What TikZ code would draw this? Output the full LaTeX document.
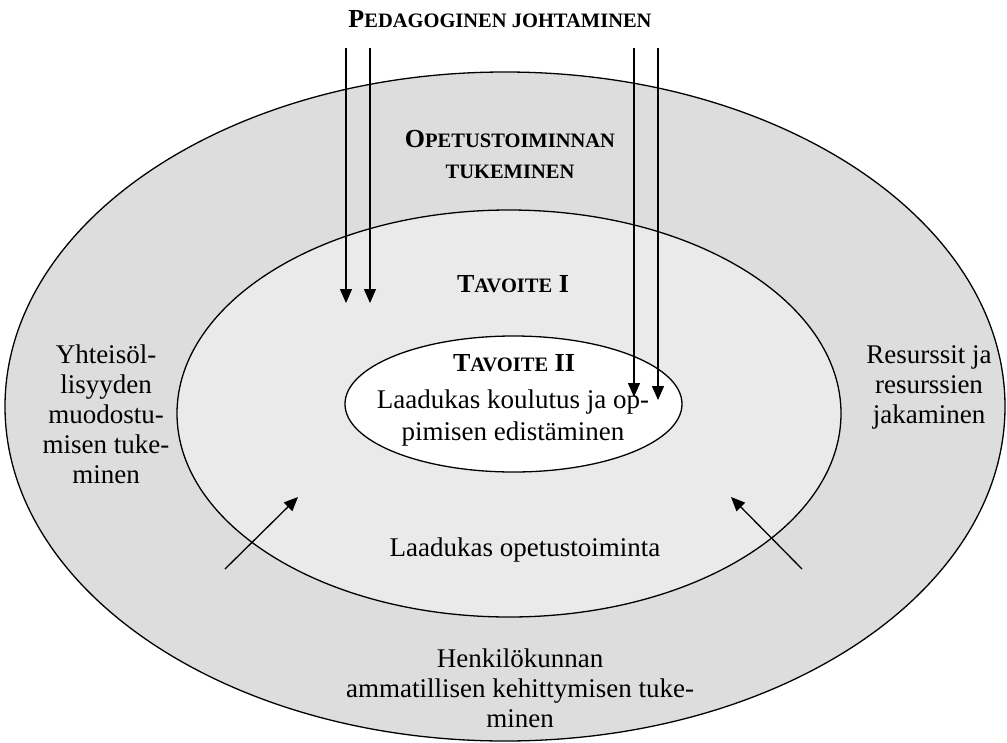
\documentclass[tikz,border=0pt]{standalone}
\usepackage{fontspec}
\setmainfont{Liberation Serif}
\usetikzlibrary{arrows.meta,shapes.geometric}
\definecolor{ringouter}{gray}{0.867}
\definecolor{ringmid}{gray}{0.918}
\newcommand\fakesc[2]{{\bfseries\fontsize{26}{30}\selectfont #1\fontsize{20.5}{30}\selectfont #2}}
\begin{document}
\begin{tikzpicture}[x=1pt,y=-1pt,
  txt/.style={font=\fontsize{27}{30}\selectfont, inner sep=0pt, anchor=base, align=center},
  hd/.style={inner sep=0pt, anchor=base, align=center},
  ring/.style={ellipse, draw=black, line width=1.3pt, inner sep=0pt},
  arr/.style={-{Triangle[length=14pt,width=12pt]}, line width=1.3pt}]
\useasboundingbox (0,0) rectangle (1007,742);
% ellipses
\node[ring, fill=ringouter, minimum width=1000pt, minimum height=669pt] (outer) at (505,406.5) {};
\node[ring, fill=ringmid, minimum width=664pt, minimum height=407pt] (middle) at (509,413.5) {};
\node[ring, fill=white, minimum width=337pt, minimum height=136pt] (inner) at (513.5,404) {};
% headings
\node[hd] (title) at (500,27) {\fakesc{P}{EDAGOGINEN JOHTAMINEN}};
\node[hd] (tuk1) at (510,147) {\fakesc{O}{PETUSTOIMINNAN}};
\node[hd] (tuk2) at (510,178) {\fakesc{}{TUKEMINEN}};
\node[hd] (tav1) at (513,292) {\fakesc{T}{AVOITE}\fakesc{ I}{}};
\node[hd] (tav2) at (514,371) {\fakesc{T}{AVOITE}\fakesc{ II}{}};
% body texts (base anchor = baseline of the last line)
\node[txt] (inner1) at (513,408) {Laadukas koulutus ja op-};
\node[txt] (inner2) at (513,440) {pimisen edistäminen};
\node[txt] (midtxt) at (525,556) {Laadukas opetustoiminta};
\node[txt] (left) at (106,483) {Yhteisöl-\\lisyyden\\muodostu-\\misen tuke-\\minen};
\node[txt] (right) at (929,423) {Resurssit ja\\resurssien\\jakaminen};
\node[txt] (bottom) at (520,727) {Henkilökunnan\\ammatillisen kehittymisen tuke-\\minen};
% arrow end points
\coordinate (v1s) at (346,48);  \coordinate (v1e) at (346,303);
\coordinate (v2s) at (370,48);  \coordinate (v2e) at (370,303);
\coordinate (v3s) at (634,48);  \coordinate (v3e) at (634,397);
\coordinate (v4s) at (658,48);  \coordinate (v4e) at (658,400);
\coordinate (d1s) at (225,569); \coordinate (d1e) at (298,497);
\coordinate (d2s) at (802,569); \coordinate (d2e) at (731,497);
\draw[arr] (v1s) -- (v1e);
\draw[arr] (v2s) -- (v2e);
\draw[arr] (v3s) -- (v3e);
\draw[arr] (v4s) -- (v4e);
\draw[arr] (d1s) -- (d1e);
\draw[arr] (d2s) -- (d2e);
\end{tikzpicture}
\end{document}
